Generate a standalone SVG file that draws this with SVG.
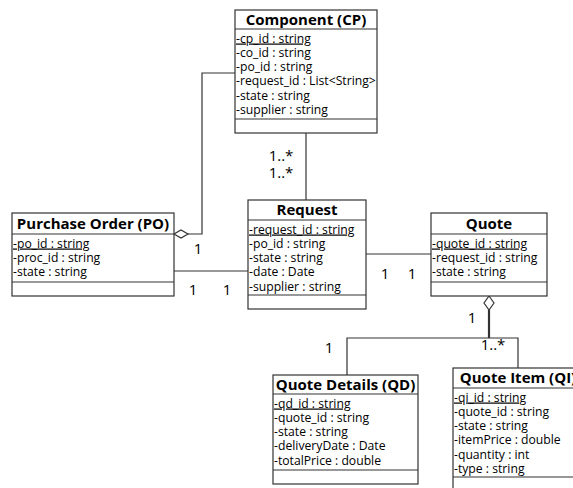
<svg xmlns="http://www.w3.org/2000/svg" width="573" height="488" viewBox="0 0 573 488">
<style>
.box{fill:#fff;stroke:#333;stroke-width:1.2}
.sep{stroke:#333;stroke-width:1.2}
.ttl{font-family:"Open Sans",sans-serif;font-weight:bold;font-size:15px;fill:#000;text-anchor:middle}
.att{font-family:"Open Sans",sans-serif;font-size:12.2px;fill:#000}
.u{text-decoration:underline}
.lbl{font-family:"Open Sans",sans-serif;font-size:15px;fill:#000;text-anchor:middle}
.ln{fill:none;stroke:#333;stroke-width:1.2}
.dia{fill:#fff;stroke:#333;stroke-width:1.2}
</style>
<rect width="573" height="488" fill="#fff"/>
<g id="connectors">
<path class="ln" d="M306,133 V200"/>
<path class="ln" d="M188,234 H202 V73 H235"/>
<polygon class="dia" points="174,234 181,230 188,234 181,238"/>
<path class="ln" d="M174,271 H248"/>
<path class="ln" d="M366,254 H431"/>
<path class="ln" d="M489,310 V338" style="stroke-width:2.2"/>
<polygon class="dia" points="489,296 494,303 489,310 484,303"/>
<path class="ln" d="M347,375 V338 H518 V368"/>
<text class="lbl" x="281" y="160.5">1..*</text>
<text class="lbl" x="281" y="178">1..*</text>
<text class="lbl" x="198" y="254">1</text>
<text class="lbl" x="193" y="295">1</text>
<text class="lbl" x="227" y="295">1</text>
<text class="lbl" x="385" y="279">1</text>
<text class="lbl" x="412" y="279">1</text>
<text class="lbl" x="472" y="323">1</text>
<text class="lbl" x="493" y="350">1..*</text>
<text class="lbl" x="329" y="353">1</text>
</g>
<g id="component">
<rect class="box" x="235" y="10" width="142" height="123"/>
<line class="sep" x1="235" y1="29" x2="377" y2="29"/>
<line class="sep" x1="235" y1="119" x2="377" y2="119"/>
<text class="ttl" x="306" y="24.5">Component (CP)</text>
<text class="att u" x="236" y="42.5">-cp_id : string</text>
<text class="att" x="236" y="56.8">-co_id : string</text>
<text class="att" x="236" y="71.1">-po_id : string</text>
<text class="att" x="236" y="85.4">-request_id : List&lt;String&gt;</text>
<text class="att" x="236" y="99.7">-state : string</text>
<text class="att" x="236" y="114">-supplier : string</text>
</g>
<g id="purchase-order">
<rect class="box" x="12" y="213" width="162" height="83"/>
<line class="sep" x1="12" y1="234" x2="174" y2="234"/>
<line class="sep" x1="12" y1="282" x2="174" y2="282"/>
<text class="ttl" x="93" y="228.5">Purchase Order (PO)</text>
<text class="att u" x="13" y="247.5">-po_id : string</text>
<text class="att" x="13" y="261.8">-proc_id : string</text>
<text class="att" x="13" y="276.1">-state : string</text>
</g>
<g id="request">
<rect class="box" x="248" y="200" width="118" height="109"/>
<line class="sep" x1="248" y1="220" x2="366" y2="220"/>
<line class="sep" x1="248" y1="295" x2="366" y2="295"/>
<text class="ttl" x="307" y="214.5">Request</text>
<text class="att u" x="249" y="233.5">-request_id : string</text>
<text class="att" x="249" y="247.8">-po_id : string</text>
<text class="att" x="249" y="262.1">-state : string</text>
<text class="att" x="249" y="276.4">-date : Date</text>
<text class="att" x="249" y="290.7">-supplier : string</text>
</g>
<g id="quote">
<rect class="box" x="431" y="213" width="116" height="83"/>
<line class="sep" x1="431" y1="234" x2="547" y2="234"/>
<line class="sep" x1="431" y1="282" x2="547" y2="282"/>
<text class="ttl" x="489" y="228.5">Quote</text>
<text class="att u" x="432" y="247.5">-quote_id : string</text>
<text class="att" x="432" y="261.8">-request_id : string</text>
<text class="att" x="432" y="276.1">-state : string</text>
</g>
<g id="quote-details">
<rect class="box" x="273" y="375" width="145" height="109"/>
<line class="sep" x1="273" y1="394" x2="418" y2="394"/>
<line class="sep" x1="273" y1="470" x2="418" y2="470"/>
<text class="ttl" x="345.5" y="390">Quote Details (QD)</text>
<text class="att u" x="274" y="407.5">-qd_id : string</text>
<text class="att" x="274" y="421.8">-quote_id : string</text>
<text class="att" x="274" y="436.1">-state : string</text>
<text class="att" x="274" y="450.4">-deliveryDate : Date</text>
<text class="att" x="274" y="464.7">-totalPrice : double</text>
</g>
<g id="quote-item">
<rect class="box" x="453" y="368" width="130" height="130"/>
<line class="sep" x1="453" y1="388" x2="583" y2="388"/>
<line class="sep" x1="453" y1="477" x2="583" y2="477"/>
<text class="ttl" x="518" y="383">Quote Item (QI)</text>
<text class="att u" x="454" y="401.5">-qi_id : string</text>
<text class="att" x="454" y="415.8">-quote_id : string</text>
<text class="att" x="454" y="430.1">-state : string</text>
<text class="att" x="454" y="444.4">-itemPrice : double</text>
<text class="att" x="454" y="458.7">-quantity : int</text>
<text class="att" x="454" y="473">-type : string</text>
</g>
</svg>
